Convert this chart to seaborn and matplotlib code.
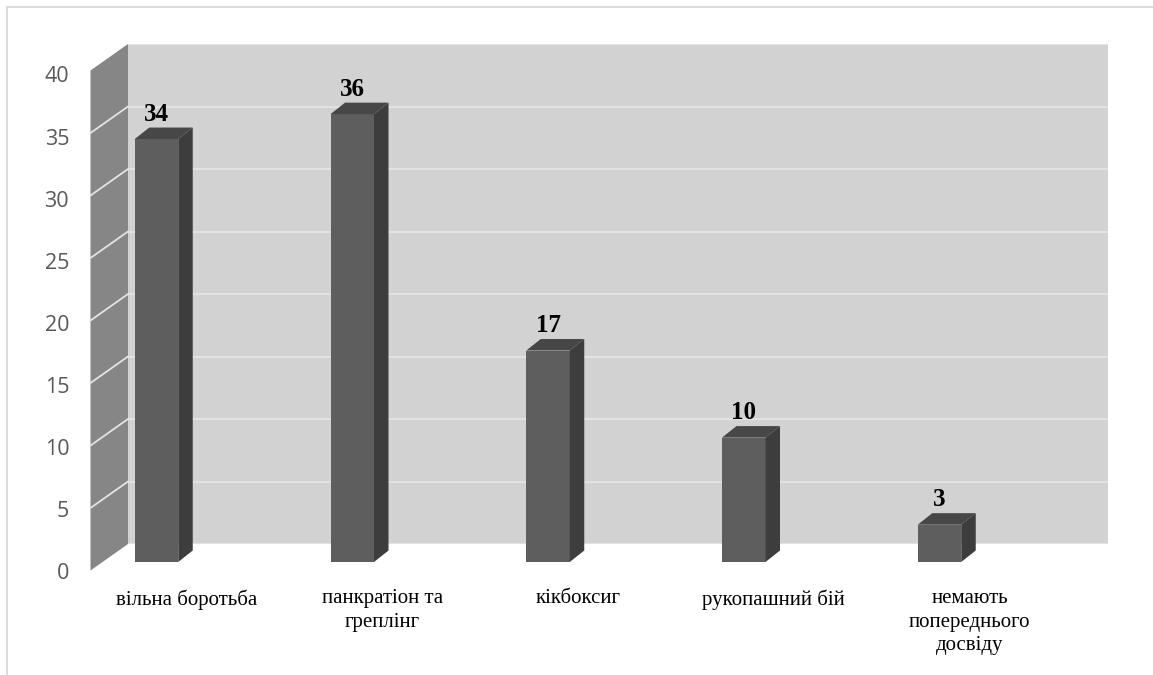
import numpy as np
import pandas as pd
import seaborn as sns
import matplotlib
matplotlib.use("Agg")
import matplotlib.pyplot as plt
from matplotlib.patches import Polygon, Rectangle
from matplotlib.lines import Line2D

# ---- data -------------------------------------------------------------
categories = [
    "вільна боротьба",
    "панкратіон та\nгреплінг",
    "кікбоксиг",
    "рукопашний бій",
    "немають\nпопереднього\nдосвіду",
]
values = [34, 36, 17, 10, 3]
y_ticks = [0, 5, 10, 15, 20, 25, 30, 35, 40]
y_max = 40

# ---- style ------------------------------------------------------------
sns.set_style("white")
plt.rcParams["font.family"] = ["Liberation Serif", "DejaVu Serif"]

W, H, DPI = 1153, 675, 100
fig = plt.figure(figsize=(W / DPI, H / DPI), dpi=DPI)
fig.patch.set_facecolor("white")


def px_rect(x0, y_top, x1, y_bot):
    """Axes rectangle from pixel edges (y measured from the top)."""
    return [x0 / W, 1 - y_bot / H, (x1 - x0) / W, (y_bot - y_top) / H]


SLOT = 195.75           # pixel width of one category slot
WALL_DX, WALL_DY = -37.5, 26.5   # back-to-front depth of the chart box (px, y down)
BAR_DX, BAR_DY = 14.5, 11.5      # depth of each column (px, y up)

FRONT = "#5e5e5e"
SIDE = "#3d3d3d"
TOP = "#474747"
BACK_WALL = "#d3d2d3"
SIDE_WALL = "#878687"
GRID = "#e4e4e4"

# ---- back wall with horizontal gridlines --------------------------------
ax_back = fig.add_axes(px_rect(128, 44, 1108, 544))
ax_back.set_facecolor(BACK_WALL)
ax_back.set_ylim(0, y_max)
ax_back.set_xlim(0, 1)
ax_back.set_yticks(y_ticks)
ax_back.set_xticks([])
ax_back.tick_params(left=False, labelleft=False)
ax_back.grid(axis="y", color=GRID, linewidth=1.3)
for s in ax_back.spines.values():
    s.set_visible(False)

# ---- left side wall (parallelogram in front of the back wall's left edge) ----
pos = ax_back.get_position()
bx = pos.x0
fx = bx + WALL_DX / W
ddy = -WALL_DY / H
wall = Polygon(
    [(bx, pos.y1), (bx, pos.y0), (fx, pos.y0 + ddy), (fx, pos.y1 + ddy)],
    closed=True, facecolor=SIDE_WALL, edgecolor="none",
    transform=fig.transFigure, clip_on=False, zorder=3,
)
ax_back.add_patch(wall)
for t in y_ticks[1:-1]:
    yb = pos.y0 + (t / y_max) * pos.height
    ax_back.add_line(Line2D([bx, fx], [yb, yb + ddy], color=GRID, linewidth=1.3,
                            transform=fig.transFigure, clip_on=False, zorder=4))

# ---- columns ----------------------------------------------------------
ax_bar = fig.add_axes(px_rect(156.5 - SLOT / 2, 562 - y_max * 12.44, 156.5 + 4.5 * SLOT, 562))
ax_bar.set_facecolor("none")
df = pd.DataFrame({"category": categories, "value": values})
sns.barplot(data=df, x="category", y="value", color=FRONT, saturation=1,
            width=43.5 / SLOT, linewidth=0, ax=ax_bar)
ax_bar.set_xlim(-0.5, 4.5)
ax_bar.set_ylim(0, y_max)
ax_bar.axis("off")

# depth of a column expressed in data units of the bar axes
ddx_data = BAR_DX / SLOT
ddy_data = BAR_DY / 12.44

for patch, v in zip(ax_bar.patches, values):
    x0 = patch.get_x()
    x1 = x0 + patch.get_width()
    h = patch.get_height()
    side = Polygon([(x1, 0), (x1, h), (x1 + ddx_data, h + ddy_data), (x1 + ddx_data, ddy_data)],
                   closed=True, facecolor=SIDE, edgecolor="none", clip_on=False)
    top = Polygon([(x0, h), (x1, h), (x1 + ddx_data, h + ddy_data), (x0 + ddx_data, h + ddy_data)],
                  closed=True, facecolor=TOP, edgecolor="none", clip_on=False)
    ax_bar.add_patch(side)
    ax_bar.add_patch(top)
    ax_bar.annotate(f"{v}", xy=(x0 + patch.get_width() / 2, h), xytext=(0, 18),
                    textcoords="offset points", ha="center", va="center",
                    fontsize=18, fontweight="bold", color="black",
                    family=["Liberation Serif", "DejaVu Serif"], annotation_clip=False)

# ---- front plane: value axis and category labels ---------------------------
ax_front = fig.add_axes(px_rect(186.5 - SLOT / 2, 74.5, 186.5 + 4.5 * SLOT, 571))
ax_front.set_facecolor("none")
ax_front.set_xlim(-0.5, 4.5)
ax_front.set_ylim(0, y_max)
ax_front.set_yticks(y_ticks)
ax_front.set_yticklabels([str(t) for t in y_ticks], family=["Open Sans", "DejaVu Sans"],
                         fontsize=15.5, color="#595959")
ax_front.set_xticks(range(len(categories)))
ax_front.set_xticklabels(categories, fontsize=15, color="black",
                         family=["Liberation Serif", "DejaVu Serif"], linespacing=1.32)
ax_front.tick_params(axis="y", length=0, pad=14)
ax_front.tick_params(axis="x", length=0, pad=13)
for s in ax_front.spines.values():
    s.set_visible(False)

# ---- outer frame ------------------------------------------------------
fig.patches.append(Rectangle((7 / W, -0.1), 1.2, 1 - 7 / H + 0.1, transform=fig.transFigure,
                             fill=False, edgecolor="#d9d9d9", linewidth=1.3, clip_on=False))

fig.savefig("out.png", dpi=DPI, facecolor="white")
